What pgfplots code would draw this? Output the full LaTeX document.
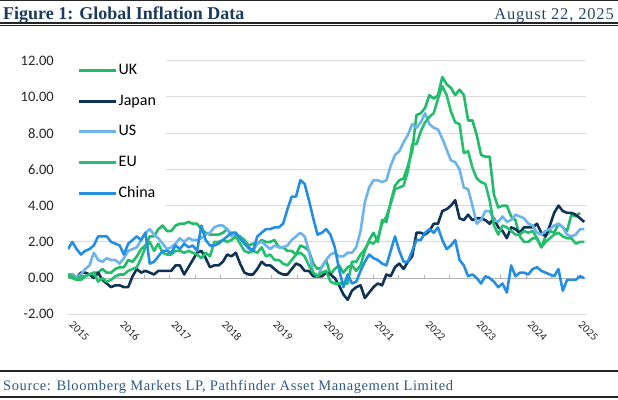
\documentclass[border=0pt]{standalone}
\usepackage{pgfplots}
\pgfplotsset{compat=1.18}
\usepackage{pgfplotstable}
\usepackage{fontspec}
\setmainfont{Liberation Serif}
\newfontfamily\carlito{Carlito}
\newfontfamily\srcfont[LetterSpace=4]{Liberation Serif}
\newfontfamily\datefont[LetterSpace=5]{Liberation Serif}
\definecolor{ukc}{RGB}{33,186,105}
\definecolor{euc}{RGB}{36,192,110}
\definecolor{jpc}{RGB}{16,50,86}
\definecolor{usc}{RGB}{110,180,236}
\definecolor{cnc}{RGB}{36,142,226}
\definecolor{titlec}{RGB}{27,58,94}
\definecolor{datec}{RGB}{40,70,105}
\definecolor{srcc}{RGB}{46,88,132}
\definecolor{gridc}{RGB}{217,217,217}
\definecolor{zeroc}{RGB}{180,180,180}

% monthly, m=0 is Jul 2015, m=120 is Jul 2025
\pgfplotstableread{
m uk jp us eu cn
0 0.1 0.2 0.2 0.2 1.6
1 0.0 0.2 0.2 0.1 2.0
2 -0.1 0.0 0.0 -0.1 1.6
3 -0.1 0.3 0.2 0.1 1.3
4 0.1 0.3 0.5 0.1 1.5
5 0.2 0.2 0.7 0.2 1.6
6 0.3 0.0 1.4 0.3 1.8
7 0.3 0.3 1.0 -0.2 2.3
8 0.5 -0.1 0.9 0.0 2.3
9 0.3 -0.3 1.1 -0.2 2.3
10 0.3 -0.5 1.0 -0.1 2.0
11 0.5 -0.4 1.0 0.1 1.9
12 0.6 -0.4 0.8 0.2 1.8
13 0.6 -0.5 1.1 0.2 1.3
14 1.0 -0.5 1.5 0.4 1.9
15 0.9 0.1 1.6 0.5 2.1
16 1.2 0.5 1.7 0.6 2.3
17 1.6 0.3 2.1 1.1 2.1
18 1.8 0.4 2.5 1.7 2.5
19 2.3 0.3 2.7 2.0 0.8
20 2.3 0.2 2.4 1.5 0.9
21 2.7 0.4 2.2 1.9 1.2
22 2.9 0.4 1.9 1.4 1.5
23 2.6 0.4 1.6 1.3 1.5
24 2.6 0.4 1.7 1.3 1.4
25 2.9 0.7 1.9 1.5 1.8
26 3.0 0.7 2.2 1.5 1.6
27 3.0 0.2 2.0 1.4 1.9
28 3.1 0.6 2.2 1.5 1.7
29 3.0 1.0 2.1 1.4 1.8
30 3.0 1.4 2.1 1.3 1.5
31 2.7 1.5 2.2 1.1 2.9
32 2.5 1.1 2.4 1.4 2.1
33 2.4 0.6 2.5 1.2 1.8
34 2.4 0.7 2.8 2.0 1.8
35 2.4 0.7 2.9 2.0 1.9
36 2.5 0.9 2.9 2.1 2.1
37 2.7 1.3 2.7 2.0 2.3
38 2.4 1.2 2.3 2.1 2.5
39 2.4 1.4 2.5 2.3 2.5
40 2.3 0.8 2.2 1.9 2.2
41 2.1 0.3 1.9 1.5 1.9
42 1.8 0.2 1.6 1.4 1.7
43 1.9 0.2 1.5 1.5 1.5
44 1.9 0.5 1.9 1.4 2.3
45 2.1 0.9 2.0 1.7 2.5
46 2.0 0.7 1.8 1.2 2.7
47 2.0 0.7 1.6 1.3 2.7
48 2.1 0.5 1.8 1.0 2.8
49 1.7 0.3 1.7 1.0 2.8
50 1.7 0.2 1.7 0.8 3.0
51 1.5 0.2 1.8 0.7 3.8
52 1.5 0.5 2.1 1.0 4.5
53 1.3 0.8 2.3 1.3 4.5
54 1.8 0.7 2.5 1.4 5.4
55 1.7 0.4 2.3 1.2 5.2
56 1.5 0.4 1.5 0.7 4.3
57 0.8 0.1 0.3 0.3 3.3
58 0.5 0.1 0.1 0.1 2.4
59 0.6 0.1 0.6 0.3 2.5
60 1.0 0.3 1.0 0.4 2.7
61 0.2 0.2 1.3 -0.2 2.4
62 0.5 0.0 1.4 -0.3 1.7
63 0.7 -0.4 1.2 -0.3 0.5
64 0.3 -0.9 1.2 -0.3 -0.5
65 0.6 -1.2 1.4 -0.3 0.2
66 0.7 -0.7 1.4 0.9 -0.3
67 0.4 -0.5 1.7 0.9 -0.2
68 0.7 -0.4 2.6 1.3 0.4
69 1.5 -1.1 4.2 1.6 0.9
70 2.1 -0.8 5.0 2.0 1.3
71 2.5 -0.5 5.4 1.9 1.1
72 2.0 -0.3 5.4 2.2 1.0
73 3.2 -0.4 5.3 3.0 0.8
74 3.1 0.2 5.4 3.4 0.7
75 4.2 0.1 6.2 4.1 1.5
76 5.1 0.6 6.8 4.9 2.3
77 5.4 0.8 7.0 5.0 1.5
78 5.5 0.5 7.5 5.1 0.9
79 6.2 0.9 7.9 5.9 0.9
80 7.0 1.2 8.5 7.4 1.5
81 9.0 2.5 8.3 7.4 2.1
82 9.1 2.5 8.6 8.1 2.1
83 9.4 2.4 9.1 8.6 2.5
84 10.1 2.6 8.5 8.9 2.7
85 9.9 3.0 8.3 9.1 2.5
86 10.1 3.0 8.2 9.9 2.8
87 11.1 3.7 7.7 10.6 2.1
88 10.7 3.8 7.1 10.1 1.6
89 10.5 4.0 6.5 9.2 1.8
90 10.1 4.3 6.4 8.6 2.1
91 10.4 3.3 6.0 8.5 1.0
92 10.1 3.2 5.0 6.9 0.7
93 8.7 3.5 4.9 7.0 0.1
94 8.7 3.2 4.0 6.1 0.2
95 7.9 3.3 3.0 5.5 0.0
96 6.8 3.3 3.2 5.3 -0.3
97 6.7 3.2 3.7 5.2 0.1
98 6.7 3.0 3.7 4.3 0.0
99 4.6 3.3 3.2 2.9 -0.2
100 3.9 2.8 3.1 2.4 -0.5
101 4.0 2.6 3.4 2.9 -0.3
102 4.0 2.2 3.1 2.8 -0.8
103 3.4 2.8 3.2 2.6 0.7
104 3.2 2.7 3.5 2.4 0.1
105 2.3 2.5 3.4 2.4 0.3
106 2.0 2.8 3.3 2.6 0.3
107 2.0 2.8 3.0 2.5 0.2
108 2.2 2.8 2.9 2.6 0.5
109 2.2 3.0 2.5 2.2 0.6
110 1.7 2.5 2.4 1.7 0.4
111 2.3 2.3 2.6 2.0 0.3
112 2.6 2.9 2.7 2.2 0.2
113 2.5 3.6 2.9 2.4 0.1
114 3.0 4.0 3.0 2.5 0.5
115 2.8 3.7 2.8 2.3 -0.7
116 2.6 3.6 2.4 2.2 -0.1
117 3.5 3.6 2.3 2.2 -0.1
118 3.4 3.5 2.4 1.9 -0.1
119 3.6 3.3 2.7 2.0 0.1
120 nan 3.1 2.7 2.0 0.0
}\infl

\begin{document}
\begin{tikzpicture}[x=1bp,y=1bp]
\useasboundingbox (0,0) rectangle (618,399);
% frame
\draw[line width=1.2bp, black!85] (0,398.4) -- (618,398.4);
\node[anchor=base west, inner sep=0pt, text=titlec, font=\fontsize{18bp}{20bp}\selectfont\bfseries] at (3,380) {Figure 1: Global Inflation Data};
\node[anchor=base east, inner sep=0pt, text=datec, font=\datefont\fontsize{16.5bp}{18bp}\selectfont] at (614,380) {August 22, 2025};
\draw[line width=2.2bp, black!85] (0,376.3) -- (618,376.3);
\draw[line width=0.7bp, black!85] (0,373.5) -- (618,373.5);
\draw[line width=2bp, black!85] (0,28.3) -- (618,28.3);
\draw[line width=1.6bp, black!85] (0,2.3) -- (618,2.3);
\node[anchor=base west, inner sep=0pt, text=srcc, font=\srcfont\fontsize{14.5bp}{16bp}\selectfont] at (3,9) {Source: Bloomberg Markets LP, Pathfinder Asset Management Limited};

\begin{axis}[
  at={(68bp,84.7bp)}, anchor=south west,
  scale only axis, width=518bp, height=253.6bp,
  xmin=0, xmax=120.4, ymin=-2, ymax=12,
  axis line style={draw=none},
  major tick length=0pt,
  xtick={0,11.83,23.66,35.49,47.32,59.15,70.98,82.81,94.64,106.47,118.30},
  xticklabels={2015,2016,2017,2018,2019,2020,2021,2022,2023,2024,2025},
  ytick={-2,0,2,4,6,8,10,12},
  ymajorgrids=true,
  major grid style={color=gridc, line width=1bp},
  yticklabel style={font=\carlito\fontsize{14.5bp}{16bp}\selectfont, text=black!85, inner sep=0pt, anchor=east, xshift=-14bp,
    /pgf/number format/.cd, fixed, fixed zerofill, precision=2, assume math mode=true},
  xticklabel style={font=\carlito\fontsize{11bp}{13bp}\selectfont, text=black!85, inner sep=0pt, anchor=north west, xshift=6bp, yshift=-6bp, rotate=-45},
  legend style={at={(0,1)}, anchor=north west, yshift=5bp, fill=white, draw=none,
    inner xsep=9bp, inner ysep=7bp, row sep=15.7bp,
    font=\carlito\fontsize{16bp}{18bp}\selectfont,
    nodes={inner xsep=1.5bp, inner ysep=0bp, text height=11.5bp, text depth=3.5bp}},
  legend cell align=left,
  legend image code/.code={\draw[#1, line width=3bp] (0bp,0bp) -- (37bp,0bp);},
  every axis plot/.append style={line width=2.6bp, line join=round, mark=none},
]
\draw[zeroc, line width=1bp] (axis cs:0,0) -- (axis cs:120.4,0);
\pgfplotsinvokeforeach{0,5.92,11.83,17.75,23.66,29.58,35.49,41.41,47.32,53.24,59.15,65.07,70.98,76.90,82.81,88.73,94.64,100.56,106.47,112.39,118.30}
  {\draw[zeroc, line width=0.8bp] (axis cs:#1,0) -- ([yshift=3bp]axis cs:#1,0);}
\addplot[ukc] table[x=m,y=uk] {\infl};
\addlegendentry{UK}
\addplot[jpc] table[x=m,y=jp] {\infl};
\addlegendentry{Japan}
\addplot[usc] table[x=m,y=us] {\infl};
\addlegendentry{US}
\addplot[euc] table[x=m,y=eu] {\infl};
\addlegendentry{EU}
\addplot[cnc] table[x=m,y=cn] {\infl};
\addlegendentry{China}
\end{axis}
\end{tikzpicture}
\end{document}
